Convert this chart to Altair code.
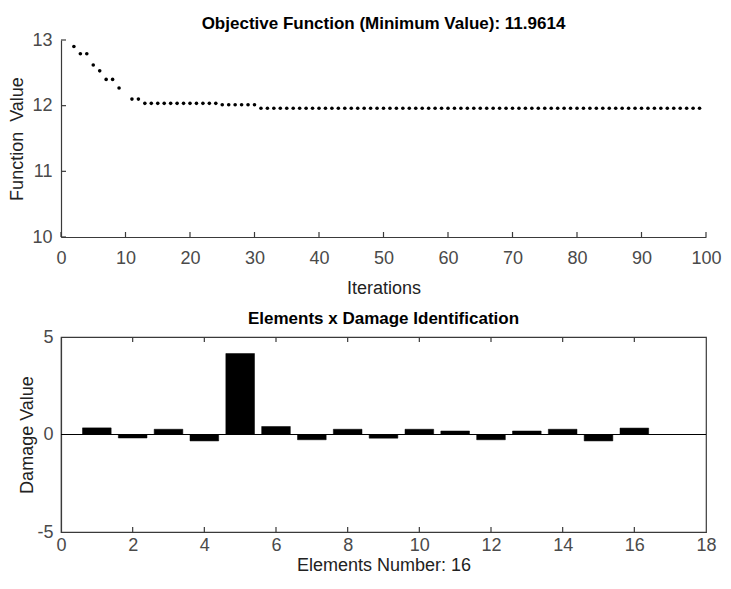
import altair as alt
import pandas as pd

# ---------------- data ----------------
iterations = [2, 3, 4, 5, 6, 7, 8, 9, 11, 12,
              13, 14, 15, 16, 17, 18, 19, 20, 21, 22, 23, 24,
              25, 26, 27, 28, 29, 30,
              31, 32, 33, 34, 35, 36, 37, 38, 39, 40,
              41, 42, 43, 44, 45, 46, 47, 48, 49, 50,
              51, 52, 53, 54, 55, 56, 57, 58, 59, 60,
              61, 62, 63, 64, 65, 66, 67, 68, 69, 70,
              71, 72, 73, 74, 75, 76, 77, 78, 79, 80,
              81, 82, 83, 84, 85, 86, 87, 88, 89, 90,
              91, 92, 93, 94, 95, 96, 97, 98, 99]
best_values = [12.90, 12.79, 12.79, 12.62, 12.53, 12.40, 12.40, 12.27, 12.10, 12.10,
               12.035, 12.035, 12.035, 12.035, 12.035, 12.035, 12.035, 12.035, 12.035, 12.035, 12.035, 12.035,
               12.015, 12.015, 12.015, 12.015, 12.015, 12.015,
               11.9614, 11.9614, 11.9614, 11.9614, 11.9614, 11.9614, 11.9614, 11.9614, 11.9614, 11.9614,
               11.9614, 11.9614, 11.9614, 11.9614, 11.9614, 11.9614, 11.9614, 11.9614, 11.9614, 11.9614,
               11.9614, 11.9614, 11.9614, 11.9614, 11.9614, 11.9614, 11.9614, 11.9614, 11.9614, 11.9614,
               11.9614, 11.9614, 11.9614, 11.9614, 11.9614, 11.9614, 11.9614, 11.9614, 11.9614, 11.9614,
               11.9614, 11.9614, 11.9614, 11.9614, 11.9614, 11.9614, 11.9614, 11.9614, 11.9614, 11.9614,
               11.9614, 11.9614, 11.9614, 11.9614, 11.9614, 11.9614, 11.9614, 11.9614, 11.9614, 11.9614,
               11.9614, 11.9614, 11.9614, 11.9614, 11.9614, 11.9614, 11.9614, 11.9614, 11.9614]
top_x_ticks = [0, 10, 20, 30, 40, 50, 60, 70, 80, 90, 100]
top_y_ticks = [10, 11, 12, 13]

elements = [1, 2, 3, 4, 5, 6, 7, 8, 9, 10, 11, 12, 13, 14, 15, 16]
damage = [0.34, -0.18, 0.27, -0.33, 4.15, 0.41, -0.27, 0.27,
          -0.19, 0.27, 0.18, -0.27, 0.18, 0.27, -0.33, 0.33]
bottom_x_ticks = [0, 2, 4, 6, 8, 10, 12, 14, 16, 18]
bottom_inner_ticks = [2, 4, 6, 8, 10, 12, 14, 16]
bottom_y_ticks = [-5, 0, 5]
zero_line = [0]

title_top = "Objective Function (Minimum Value): 11.9614"
title_bottom = "Elements x Damage Identification"

# ---------------- style ----------------
W, H1, H2 = 645, 197, 195
FONT = "Liberation Sans"
AX = "#3a3a3a"
LAB = "#4a4a4a"
TICK = 5
BAR_HALF = 0.4
FS = 18

axis_common = dict(
    labelFont=FONT, labelFontSize=FS, labelColor=LAB,
    titleFont=FONT, titleFontSize=FS, titleFontWeight="normal", titleColor="#222222",
    domainColor=AX, domainWidth=1.2, ticks=False, grid=False,
    labelFlush=False, labelOverlap=False,
)

# ---------------- top panel ----------------
df_top = pd.DataFrame({"iter": iterations, "val": best_values})
xs_top = alt.Scale(domain=[0, 100], nice=False)
ys_top = alt.Scale(domain=[10, 13], nice=False, zero=False)
xa_top = alt.Axis(values=top_x_ticks, title="Iterations", labelPadding=12, titlePadding=12, **axis_common)
ya_top = alt.Axis(values=top_y_ticks, title="Function\u00a0 Value", labelPadding=9, titlePadding=5, **axis_common)

pts = alt.Chart(df_top).mark_circle(size=13, color="black", opacity=1).encode(
    x=alt.X("iter:Q", scale=xs_top, axis=xa_top),
    y=alt.Y("val:Q", scale=ys_top, axis=ya_top),
)
top_xt = alt.Chart(pd.DataFrame({"iter": top_x_ticks})).mark_rule(color=AX, strokeWidth=1.2).encode(
    x=alt.X("iter:Q", scale=xs_top, axis=xa_top), y=alt.value(H1), y2=alt.value(H1 - TICK))
top_yt = alt.Chart(pd.DataFrame({"val": top_y_ticks})).mark_rule(color=AX, strokeWidth=1.2).encode(
    y=alt.Y("val:Q", scale=ys_top, axis=ya_top), x=alt.value(0), x2=alt.value(TICK))

top = alt.layer(pts, top_xt, top_yt).properties(
    width=W, height=H1,
    title=alt.TitleParams(title_top, font=FONT, fontSize=17, fontWeight="bold",
                          color="black", anchor="middle", offset=-2),
    view=alt.ViewBackground(stroke=None),
)

# ---------------- bottom panel ----------------
df_bot = pd.DataFrame({"el": elements, "dmg": damage})
xs_bot = alt.Scale(domain=[0, 18], nice=False)
ys_bot = alt.Scale(domain=[-5, 5], nice=False)
xa_bot = alt.Axis(values=bottom_x_ticks, title="Elements Number: 16", labelPadding=4,
                  titlePadding=2, **axis_common)
ya_bot = alt.Axis(values=bottom_y_ticks, title="Damage Value", labelPadding=8,
                  titlePadding=0, labelExpr="'' + datum.value", **axis_common)

bars = alt.Chart(df_bot).transform_calculate(
    x0=f"datum.el - {BAR_HALF}", x1=f"datum.el + {BAR_HALF}", base="0"
).mark_rect(color="black", stroke="black", strokeWidth=0.5).encode(
    x=alt.X("x0:Q", scale=xs_bot, axis=xa_bot),
    x2="x1:Q",
    y=alt.Y("dmg:Q", scale=ys_bot, axis=ya_bot),
    y2="base:Q",
)
zl = alt.Chart(pd.DataFrame({"dmg": zero_line})).mark_rule(color="black", strokeWidth=1).encode(
    y=alt.Y("dmg:Q", scale=ys_bot, axis=ya_bot), x=alt.value(0), x2=alt.value(W))
bt_b = alt.Chart(pd.DataFrame({"x0": bottom_inner_ticks})).mark_rule(color=AX, strokeWidth=1.2).encode(
    x=alt.X("x0:Q", scale=xs_bot, axis=xa_bot), y=alt.value(H2), y2=alt.value(H2 - TICK))
bt_t = alt.Chart(pd.DataFrame({"x0": bottom_inner_ticks})).mark_rule(color=AX, strokeWidth=1.2).encode(
    x=alt.X("x0:Q", scale=xs_bot, axis=xa_bot), y=alt.value(0), y2=alt.value(TICK))

bottom = alt.layer(bars, zl, bt_b, bt_t).properties(
    width=W, height=H2,
    title=alt.TitleParams(title_bottom, font=FONT, fontSize=17, fontWeight="bold",
                          color="black", anchor="middle", offset=0),
    view=alt.ViewBackground(stroke=AX, strokeWidth=1.2),
)

chart = alt.vconcat(top, bottom, spacing=12).properties(
    padding={"left": 0, "top": 7, "right": 0, "bottom": -2},
    background="white",
).configure(font=FONT)

chart.save("out.html", embed_options={"renderer": "svg", "actions": False})
